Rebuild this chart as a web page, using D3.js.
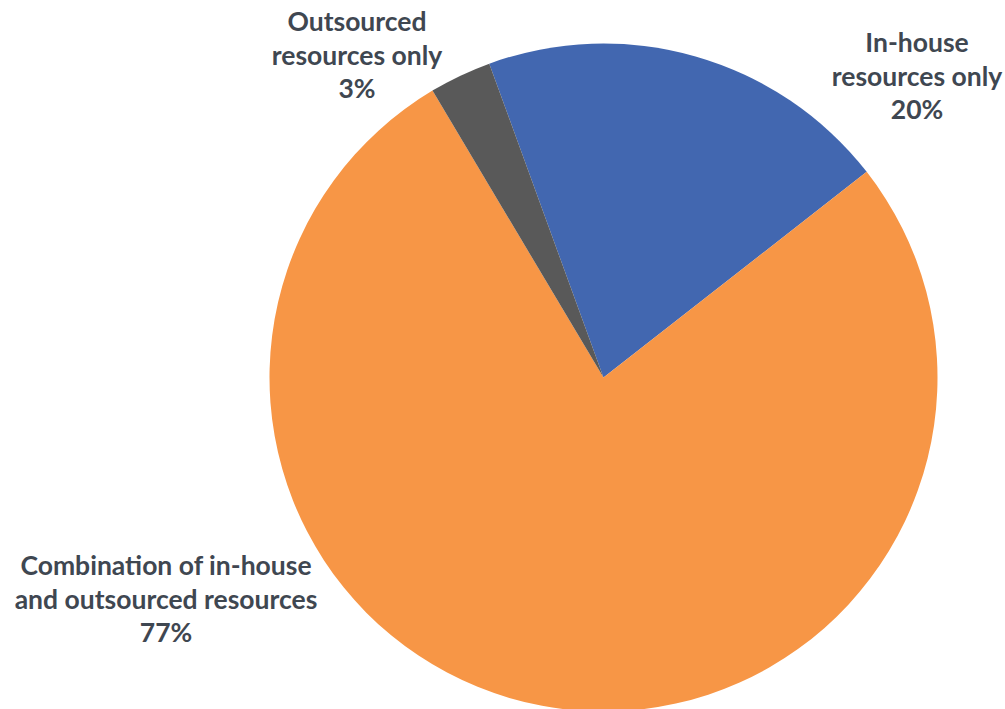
<!DOCTYPE html>
<html>
<head>
<meta charset="utf-8">
<script src="https://cdn.jsdelivr.net/npm/d3@7"></script>
<style>
  html, body { margin: 0; padding: 0; background: #ffffff; }
  svg { display: block; }
  .lbl { font-family: Lato, "Open Sans", sans-serif; font-weight: 700; fill: #3F4751; }
</style>
</head>
<body>
<svg id="chart" width="1005" height="709"></svg>
<script>
// Resourcing approach shares (%)
const categories = ["In-house resources only", "Combination of in-house and outsourced resources", "Outsourced resources only"];
const labelLines = [
  ["In-house", "resources only"],
  ["Combination of in-house", "and outsourced resources"],
  ["Outsourced", "resources only"]
];
const values = [20, 77, 3];
const colors = ["#4267B0", "#F79646", "#595959"];

const svg = d3.select("#chart");
const cx = 603.5, cy = 377.5, r = 334;
const rot = -20 * Math.PI / 180;

const pie = d3.pie().sort(null).value(d => d)
  .startAngle(rot).endAngle(rot + 2 * Math.PI);
const arcs = pie(values);
const arc = d3.arc().innerRadius(0).outerRadius(r);

const g = svg.append("g").attr("transform", `translate(${cx},${cy})`);
g.selectAll("path").data(arcs).join("path")
  .attr("d", arc)
  .attr("fill", (d, i) => colors[i]);

// Label anchors (centre of first baseline) for each slice
const anchors = [
  { x: 917, y: 52 },
  { x: 166, y: 575 },
  { x: 357, y: 31 }
];
const lineGap = 33.5;
const fmt = v => v + "%";

arcs.forEach((a, i) => {
  const t = svg.append("text").attr("class", "lbl")
    .attr("text-anchor", "middle")
    .attr("font-size", 26.5)
    .attr("x", anchors[i].x).attr("y", anchors[i].y);
  const lines = labelLines[i].concat([fmt(values[i])]);
  lines.forEach((ln, k) => {
    t.append("tspan").attr("x", anchors[i].x).attr("dy", k === 0 ? 0 : lineGap).text(ln);
  });
});
</script>
</body>
</html>
